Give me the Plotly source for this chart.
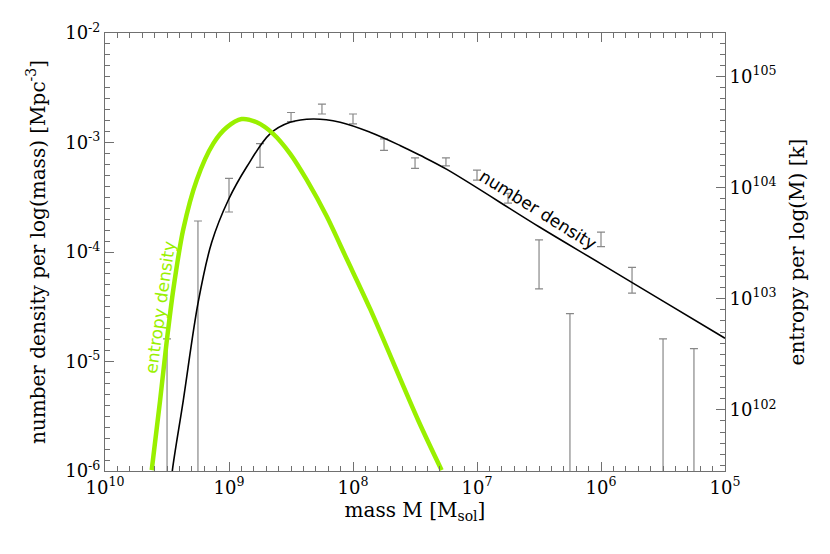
import plotly.graph_objects as go
import math

# number density model curve (left axis)
curve_mass = [2.95e9, 2.86e9, 2.34e9, 1.77e9, 1.38e9, 1.01e9, 7.19e8, 4.67e8, 3.22e8, 2.09e8,
              1.27e8, 7.29e7, 4.18e7, 2.88e7, 1.75e7, 3.16e6, 1.0e6, 3.16e5, 1.0e5]
curve_density = [6.9e-7, 1.02e-6, 4.38e-6, 3.50e-5, 1.22e-4, 3.00e-4, 6.00e-4, 1.20e-3, 1.53e-3, 1.64e-3,
                 1.53e-3, 1.24e-3, 9.40e-4, 7.64e-4, 5.68e-4, 1.70e-4, 7.80e-5, 3.56e-5, 1.63e-5]

# entropy density curve (right axis, units of k)
entropy_mass = [4.20e9, 3.60e9, 3.18e9, 2.81e9, 2.34e9, 1.82e9, 1.34e9, 1.04e9, 7.91e8, 5.98e8,
                4.40e8, 3.22e8, 2.36e8, 1.63e8, 1.12e8, 7.29e7, 2.97e7, 1.93e7]
entropy_value = [2.87e101, 1.20e102, 4.11e102, 1.22e103, 4.19e103, 1.17e104, 2.48e104, 3.48e104, 4.13e104, 3.86e104,
                 3.04e104, 2.02e104, 1.17e104, 5.51e103, 2.26e103, 8.13e102, 7.98e101, 2.87e101]

# measured number densities with error ranges
obs_mass = [3.16e9, 1.78e9, 1.0e9, 5.62e8, 3.16e8, 1.78e8, 1.0e8, 5.62e7, 3.16e7,
            1.78e7, 1.0e7, 5.62e6, 3.16e6, 1.78e6, 1.0e6, 5.62e5, 3.16e5, 1.78e5]
obs_value = [8.0e-6, 9.6e-5, 3.31e-4, 7.60e-4, 1.71e-3, 2.02e-3, 1.64e-3, 9.57e-4, 6.48e-4,
             6.66e-4, 5.04e-4, 3.10e-4, 7.77e-5, 1.37e-5, 1.30e-4, 5.53e-5, 8.0e-6, 6.5e-6]
obs_high = [1.61e-5, 1.92e-4, 4.71e-4, 9.75e-4, 1.88e-3, 2.24e-3, 1.82e-3, 1.08e-3, 7.24e-4,
            7.24e-4, 5.60e-4, 3.44e-4, 1.29e-4, 2.74e-5, 1.52e-4, 7.24e-5, 1.61e-5, 1.31e-5]
obs_low = [0, 0, 2.32e-4, 5.92e-4, 1.55e-3, 1.82e-3, 1.48e-3, 8.48e-4, 5.80e-4,
           6.12e-4, 4.54e-4, 2.80e-4, 4.61e-5, 0, 1.12e-4, 4.22e-5, 0, 0]

x_ticks = [1e10, 1e9, 1e8, 1e7, 1e6, 1e5]
x_ticktext = ["10<sup>10</sup>", "10<sup>9</sup>", "10<sup>8</sup>", "10<sup>7</sup>", "10<sup>6</sup>", "10<sup>5</sup>"]
y_ticks = [1e-6, 1e-5, 1e-4, 1e-3, 1e-2]
y_ticktext = ["10<sup>-6</sup>", "10<sup>-5</sup>", "10<sup>-4</sup>", "10<sup>-3</sup>", "10<sup>-2</sup>"]
y2_ticks = [1e102, 1e103, 1e104, 1e105]
y2_ticktext = ["10<sup>102</sup>", "10<sup>103</sup>", "10<sup>104</sup>", "10<sup>105</sup>"]

GREEN = "#99f000"
AXIS = "#707070"
FONT = "DejaVu Serif"

fig = go.Figure()

fig.add_trace(go.Scatter(
    x=obs_mass, y=obs_value, mode="markers",
    marker=dict(size=1, color="rgba(0,0,0,0)"),
    error_y=dict(type="data", symmetric=False,
                 array=[h - v for h, v in zip(obs_high, obs_value)],
                 arrayminus=[v - l for v, l in zip(obs_value, obs_low)],
                 color="#888888", thickness=1.2, width=4),
    showlegend=False, hoverinfo="skip",
))

fig.add_trace(go.Scatter(
    x=curve_mass, y=curve_density, mode="lines",
    line=dict(color="black", width=1.6, shape="spline", smoothing=1.0),
    showlegend=False,
))

fig.add_trace(go.Scatter(
    x=entropy_mass, y=entropy_value, mode="lines", yaxis="y2",
    line=dict(color=GREEN, width=4.5, shape="spline", smoothing=0.8),
    showlegend=False,
))

title_font = dict(family=FONT, size=20, color="black")
tick_font = dict(family=FONT, size=18, color="black")
minor_ticks = dict(ticks="inside", ticklen=5, tickcolor=AXIS, tickwidth=1, dtick=0.1, tick0=0)

fig.update_layout(
    template="simple_white",
    # page body adds an 8px offset, so the figure is 8px smaller each way
    width=822, height=546,
    margin=dict(l=97, r=105, t=20, b=83),
    paper_bgcolor="white", plot_bgcolor="white",
    font=dict(family=FONT, color="black"),
    xaxis=dict(
        type="log", range=[10, 5], showgrid=False,
        showline=True, linecolor=AXIS, mirror="ticks",
        ticks="inside", ticklen=9, tickcolor=AXIS, tickwidth=1,
        tickvals=x_ticks, ticktext=x_ticktext, tickfont=tick_font,
        minor=minor_ticks,
        title=dict(text="mass M [M<sub>sol</sub>]", font=title_font, standoff=4),
    ),
    yaxis=dict(
        type="log", range=[-6, -2], showgrid=False,
        showline=True, linecolor=AXIS,
        ticks="inside", ticklen=9, tickcolor=AXIS, tickwidth=1,
        tickvals=y_ticks, ticktext=y_ticktext, tickfont=tick_font,
        minor=minor_ticks,
        title=dict(text="number density per log(mass) [Mpc<sup>-3</sup>]", font=title_font, standoff=14),
    ),
    yaxis2=dict(
        type="log", range=[101.45, 105.39], overlaying="y", anchor="x", side="right", showgrid=False,
        showline=True, linecolor=AXIS,
        ticks="inside", ticklen=9, tickcolor=AXIS, tickwidth=1,
        tickvals=y2_ticks, ticktext=y2_ticktext, tickfont=tick_font,
        minor=minor_ticks,
        title=dict(text="entropy per log(M) [k]", font=title_font, standoff=14),
    ),
    annotations=[
        dict(x=math.log10(3.2e6), y=math.log10(2.42e-4), xref="x", yref="y", text="number density",
             showarrow=False, textangle=32, font=dict(family="DejaVu Sans", size=17, color="black")),
        dict(x=math.log10(3.6e9), y=math.log10(3.15e-5), xref="x", yref="y", text="entropy density",
             showarrow=False, textangle=-82, font=dict(family="DejaVu Sans", size=17, color=GREEN)),
    ],
)

fig.write_html("out.html")
